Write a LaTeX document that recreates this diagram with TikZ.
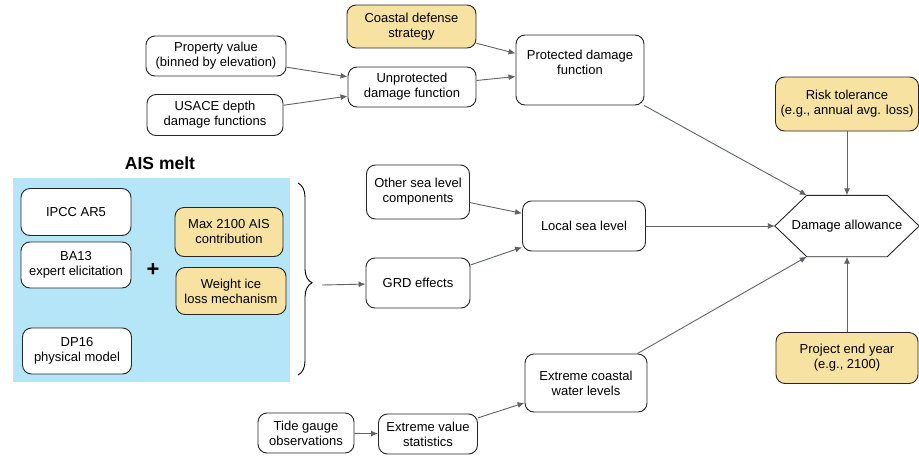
\documentclass[tikz,border=0pt]{standalone}
\usepackage{fontspec}
\setmainfont{Liberation Sans}
\usepackage{tikz}
\usetikzlibrary{arrows.meta,decorations.pathreplacing,calc}
\definecolor{inyellow}{HTML}{F7E2A1}
\definecolor{aisblue}{HTML}{B4E6F8}
\definecolor{arrgray}{HTML}{5F6368}
\begin{document}
\begin{tikzpicture}[x=1pt,y=-1pt,
  font=\fontsize{13}{15}\selectfont,
  box/.style={draw=black!85,line width=0.9pt,rounded corners=9pt,align=center,fill=white,inner sep=2pt},
  inp/.style={box,fill=inyellow},
  arr/.style={-{Latex[length=7pt,width=6pt]},draw=arrgray,line width=0.9pt}]
\useasboundingbox (0,0) rectangle (919,456);
% ---------- AIS melt panel ----------
\fill[aisblue] (13,178) rectangle (290,382);
\node[font=\fontsize{17.5}{20}\selectfont\bfseries] (aistitle) at (160,163) {AIS melt};
\node[box,minimum width=110,minimum height=47] (ipcc) at (76,212) {IPCC AR5};
\node[box,minimum width=110,minimum height=46] (ba13) at (76,265) {BA13\\expert elicitation};
\node[box,minimum width=109,minimum height=46] (dp16) at (77,351) {DP16\\physical model};
\node[inp,minimum width=108,minimum height=49] (maxais) at (229,232) {Max 2100 AIS\\contribution};
\node[inp,minimum width=110,minimum height=47] (weight) at (231,291) {Weight ice\\loss mechanism};
\node[font=\fontsize{22}{22}\selectfont\bfseries] (plus) at (153,270) {+};
\coordinate (bracetop) at (298,183);
\coordinate (bracebot) at (298,375);
\coordinate (bracetip) at (322,285);
\draw[line width=0.9pt,decorate,decoration={brace,amplitude=14pt,aspect=0.52}] (bracetop) -- (bracebot);
% ---------- Damage function ----------
\node[box,minimum width=140,minimum height=40] (prop) at (216,56) {Property value\\(binned by elevation)};
\node[box,minimum width=136,minimum height=41] (usace) at (215,115) {USACE depth\\damage functions};
\node[box,minimum width=128,minimum height=40] (unprot) at (412,87) {Unprotected\\damage function};
\node[inp,minimum width=129,minimum height=43] (coast) at (411.5,26.5) {Coastal defense\\strategy};
\node[box,minimum width=128,minimum height=70,text depth=16pt] (prot) at (580,70) {Protected damage\\function};
% ---------- Sea level ----------
\node[box,minimum width=103,minimum height=54] (other) at (418,192) {Other sea level\\components};
\node[box,minimum width=104,minimum height=50] (grd) at (418,283) {GRD effects};
\node[box,minimum width=123,minimum height=50] (local) at (584,226) {Local sea level};
\node[box,minimum width=96,minimum height=40] (tide) at (306,433) {Tide gauge\\observations};
\node[box,minimum width=99,minimum height=40] (evs) at (428,434) {Extreme value\\statistics};
\node[box,minimum width=122,minimum height=58] (ecw) at (586,383) {Extreme coastal\\water levels};
% ---------- Damage allowance ----------
\node[minimum width=144,minimum height=61,inner sep=0pt] (da) at (847,226) {};
\coordinate (danw) at ($(da.north west)+(32,0)$);
\coordinate (dane) at ($(da.north east)+(-32,0)$);
\coordinate (dasw) at ($(da.south west)+(32,0)$);
\coordinate (dase) at ($(da.south east)+(-32,0)$);
\draw[draw=black!85,line width=0.9pt,fill=white] (da.west) -- (danw) -- (dane) -- (da.east) -- (dase) -- (dasw) -- cycle;
\node (datext) at (da.center) {Damage allowance};
\node[inp,minimum width=143,minimum height=54] (risk) at (847,104) {Risk tolerance\\(e.g., annual avg. loss)};
\node[inp,minimum width=142,minimum height=51] (proj) at (847,358) {Project end year\\(e.g., 2100)};
% ---------- Connectors ----------
\draw[arr] (prop) -- (unprot);
\draw[arr] (usace) -- (unprot);
\draw[arr] (coast) -- (prot);
\draw[arr] (unprot) -- (prot);
\draw[arr] (prot) -- (danw);
\draw[arr] (risk) -- (da);
\draw[arr] (bracetip) -- (grd);
\draw[arr] (other) -- (local);
\draw[arr] (grd) -- (local);
\draw[arr] (local) -- (da);
\draw[arr] (tide) -- (evs);
\draw[arr] (evs) -- (ecw);
\draw[arr] (ecw) -- (dasw);
\draw[arr] (proj) -- (da);
\end{tikzpicture}
\end{document}
